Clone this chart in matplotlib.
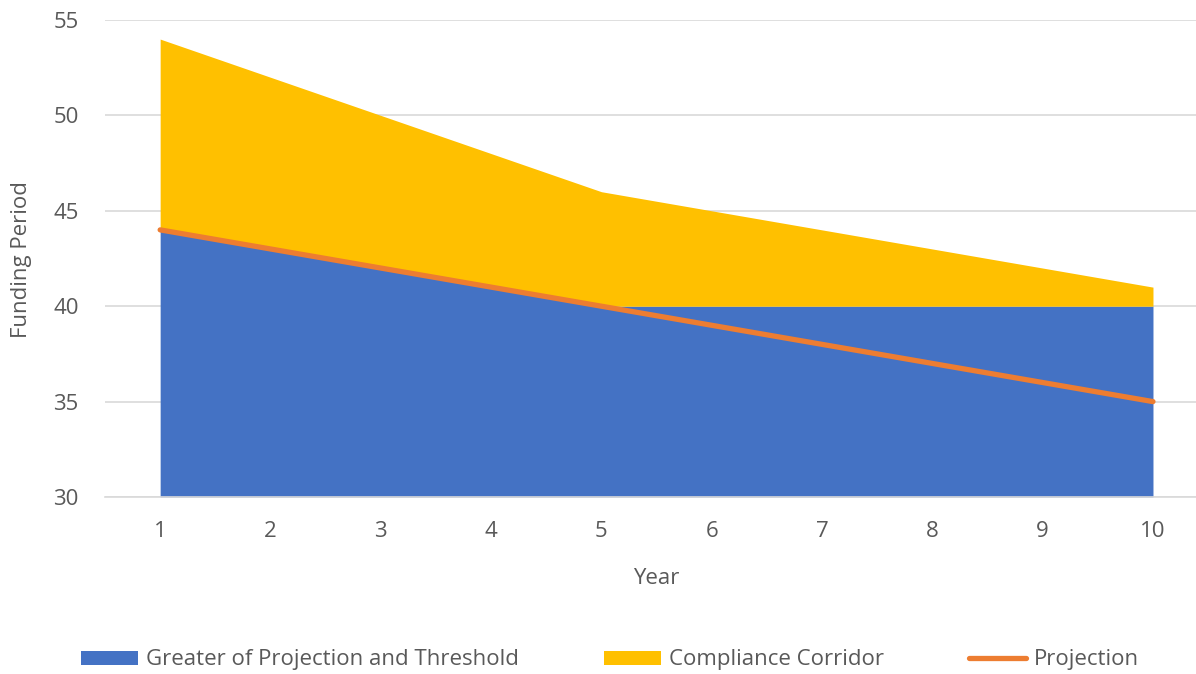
import numpy as np
import matplotlib.pyplot as plt
from matplotlib.patches import Patch
from matplotlib.lines import Line2D

plt.rcParams['font.family'] = ['Open Sans', 'DejaVu Sans']

years = [1, 2, 3, 4, 5, 6, 7, 8, 9, 10]
projection = [44, 43, 42, 41, 40, 39, 38, 37, 36, 35]
threshold = [40, 40, 40, 40, 40, 40, 40, 40, 40, 40]
corridor = [10, 9, 8, 7, 6, 5, 4, 3, 2, 1]
y_ticks = [30, 35, 40, 45, 50, 55]

greater = np.maximum(projection, threshold)
corridor_top = greater + np.array(corridor)

BLUE = '#4472C4'
GOLD = '#FFC000'
ORANGE = '#ED7D31'
TEXT = '#595959'
FS = 16

W, H = 1196, 674
fig = plt.figure(figsize=(W / 100, H / 100), dpi=100)
ax = fig.add_axes([105 / W, 1 - 497 / H, 1 - 105 / W, (497 - 20) / H])

ax.fill_between(years, 30, greater, color=BLUE, linewidth=0, zorder=2)
ax.fill_between(years, greater, corridor_top, color=GOLD, linewidth=0, zorder=2)
ax.plot(years, projection, color=ORANGE, linewidth=3.8, solid_capstyle='round', zorder=3)

ax.set_xlim(0.5, 10.39)
ax.set_ylim(30, 55)
ax.set_xticks(years)
ax.set_yticks(y_ticks)
ax.grid(axis='y', color='#D9D9D9', linewidth=1.2, zorder=1)
for s in ['top', 'right', 'left']:
    ax.spines[s].set_visible(False)
ax.spines['bottom'].set_color('#D9D9D9')
ax.spines['bottom'].set_linewidth(1.2)
ax.tick_params(axis='both', length=0, labelsize=FS, colors=TEXT)
ax.tick_params(axis='x', pad=17)
ax.tick_params(axis='y', pad=19)

fig.text(656 / W, 1 - 579 / H, 'Year', fontsize=FS, color=TEXT, ha='center', va='center')
fig.text(22 / W, 1 - 260 / H, 'Funding Period', fontsize=FS, color=TEXT,
         ha='center', va='center', rotation=90)

handles = [
    Patch(facecolor=BLUE, edgecolor='none'),
    Patch(facecolor=GOLD, edgecolor='none'),
    Line2D([0], [0], color=ORANGE, linewidth=3.8, solid_capstyle='round'),
]
labels = ['Greater of Projection and Threshold', 'Compliance Corridor', 'Projection']
fig.legend(handles, labels, loc='center', bbox_to_anchor=(0.51, 1 - 660 / H),
           ncol=3, frameon=False, fontsize=FS, labelcolor=TEXT,
           handlelength=2.6, handleheight=0.6, handletextpad=0.35, columnspacing=3.8)

fig.savefig('out.png', dpi=100)
